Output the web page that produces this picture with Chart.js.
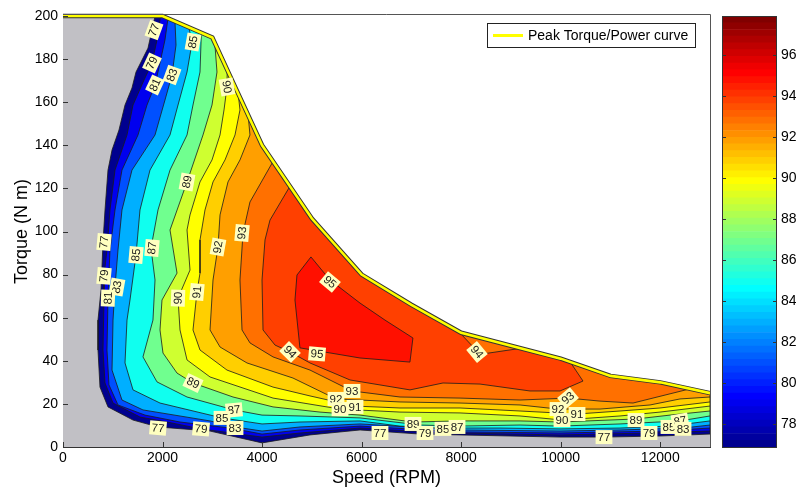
<!DOCTYPE html>
<html>
<head>
<meta charset="utf-8">
<script src="https://cdn.jsdelivr.net/npm/chart.js@4.4.1/dist/chart.umd.min.js"></script>
<style>
  html, body { margin: 0; padding: 0; background: #fff; }
  #wrap { position: relative; width: 796px; height: 489px; overflow: hidden; }
  #main { position: absolute; left: 0; top: 0; }
  #cbar { position: absolute; left: 700px; top: 0; }
</style>
</head>
<body>
<div id="wrap">
  <canvas id="main" width="796" height="489"></canvas>
  <canvas id="cbar" width="96" height="489"></canvas>
</div>
<script>
// Peak torque / power envelope
const peakSpeed = [0, 2000, 3000, 3500, 4000, 5000, 6000, 7000, 8000, 9000, 10000, 11000, 12000, 13000];
const peakTorque = [200, 200, 190, 165, 140, 106, 80, 66, 53, 47, 41, 33, 30, 25];

// Efficiency contours (%), [speed, torque]
const c77 = [[1850,200],[1708,185.1],[1467,174],[1386,166.6],[1246,158.7],[1125,147.1],[985,137.8],[904,128.5],[844,110],[804,95.1],[764,72.9],[703,58.9],[703,45],[743,27.8],[904,18.6],[1407,12.5],[1909,9.3],[2954,7.4],[3999,1.9],[4963,5.6],[5968,7.9],[7173,6],[7977,5.6],[9986,4.6],[10870,4.6],[11995,5.1],[13000,6]];
const c79 = [[1960,200],[1889,188.9],[1788,178.2],[1628,170.3],[1407,158.7],[1286,144.8],[1045,128.5],[944,110],[884,91.4],[824,79.4],[824,68.2],[804,45],[844,29.7],[1005,20.4],[1547,13.9],[2090,11.6],[2773,8.4],[3999,4.6],[4762,6.5],[5968,8.8],[7274,7],[7977,6.5],[9986,5.6],[11775,6.5],[13000,7.4]];
const c81 = [[2110,198.9],[2049,188.9],[1909,174],[1849,168],[1688,158.7],[1507,144.8],[1185,128.5],[1045,110],[944,91.4],[904,69.1],[884,45],[924,28.8],[1105,19.5],[1648,14.8],[2351,11.6],[3356,8.8],[3999,6],[4762,7.9],[5968,9.7],[7977,7],[9986,6.5],[11995,7.4],[13000,8.8]];
const c83 = [[2250,197.5],[2271,186.5],[2190,172.6],[2049,161],[1849,144.8],[1386,128.5],[1185,110],[1105,91.4],[1045,74.2],[1005,58.9],[985,35.7],[1185,21.8],[1607,17.2],[2954,12.1],[3456,9.3],[3999,7.4],[4762,9.3],[5968,10.7],[7977,7.9],[9986,7.4],[11192,7.9],[12458,8.8],[13000,10.2]];
const c85 = [[2530,194.7],[2592,187.5],[2492,174],[2311,158.7],[2150,144.8],[1748,128.5],[1547,110],[1467,89.1],[1346,68.2],[1286,58.9],[1246,39],[1407,26.5],[1949,20.4],[3195,13.5],[3999,10.7],[4762,11.6],[5968,12.1],[6771,9.7],[7635,8.8],[8781,8.8],[9986,8.4],[11192,8.8],[12176,9.7],[13000,12.1]];
const c87 = [[2780,192.2],[2753,174],[2612,158.7],[2492,144.8],[2150,128.5],[1909,110],[1768,92.3],[1849,77.5],[1808,58.9],[1607,41.8],[1889,30.2],[2492,23.2],[3436,17.2],[3999,14.8],[4762,14.4],[5968,13.5],[7173,10.2],[7917,9.7],[9183,10.2],[9986,9.7],[11192,10.7],[12398,12.1],[13000,14.4]];
const c89 = [[3050,187.5],[3094,174],[2994,158.7],[2813,144.8],[2492,123],[2150,100.7],[2291,80.7],[1989,68.2],[1949,54.3],[2009,43.6],[2291,34.3],[2612,29.7],[3416,23.2],[4220,18.6],[5164,16.2],[5968,14.8],[7033,11.6],[7977,12.1],[9183,12.1],[9986,11.6],[11513,13],[12196,14.8],[13000,16.7]];
const c90 = [[3300,175],[3295,167.1],[3235,156.4],[3155,144.8],[2994,133.2],[2753,123],[2552,107.7],[2492,100.7],[2552,82.1],[2311,69.1],[2351,54.3],[2492,40.4],[2954,32.5],[4220,22.7],[5566,17.6],[6771,16.2],[7977,15.8],[9183,14.4],[10026,12.5],[11192,14.4],[11995,16.2],[13000,19]];
const c91 = [[3520,164],[3556,156.4],[3456,144.8],[3255,133.2],[3014,123],[2853,110],[2753,96.1],[2753,80.7],[2692,71.9],[2612,54.3],[2753,45],[3295,35.7],[4220,27.8],[4963,23.7],[5867,19],[6771,18.1],[7977,18.1],[9183,16.7],[10328,15.3],[11192,16.7],[11995,18.1],[13000,20.9]];
const c92 = [[3720,154],[3757,144.8],[3556,133.2],[3315,123],[3155,107.7],[3114,92.8],[3014,77.5],[2954,54.3],[3155,46.4],[3697,39],[4621,32],[5485,22.3],[5968,21.8],[6771,20.9],[7977,20.4],[9183,19.5],[9946,17.6],[10790,17.6],[11795,19.5],[12398,22.3],[13000,23.2]];
const c93 = [[4220,132.5],[3757,113.7],[3617,99.3],[3556,77.5],[3597,54.3],[3757,48.3],[4220,41.8],[4963,35.7],[5807,26],[6771,23.2],[7977,22.7],[9183,21.8],[10147,22.7],[10790,21.3],[11453,20.4],[12096,24.1],[12600,27]];
const c94 = [[4560,121],[4159,105.3],[4059,96.1],[3999,77.5],[4019,54.3],[4260,47.3],[4561,44.1],[4963,39],[5767,31.1],[6972,26.5],[7635,29.7],[8379,29.2],[9383,26],[9986,26],[10448,30.6],[10190,39.5]];
const c93b = [[7950,53.6],[8380,43],[9200,45.8]];
const c95 = [[4982,88.2],[5364,77.5],[5967,66.8],[6469,58.9],[7031,50.6],[6971,39.4],[5967,41.3],[4761,46],[4661,68.2],[4701,79.8],[4982,88.2]];

// contour labels
const labelText   = ['77','85','79','83','81','90','89','77','79','83','81','85','87','92','93','90','91','89','87','85','83','77','79','94','95','95','93','92','90','91','77','89','79','85','87','94','93','92','90','91','77','89','79','85','87','83'];
const labelSpeed  = [1828,2612,1788,2190,1849,3295,2492,824,824,1085,904,1467,1788,3114,3597,2311,2692,2612,3436,3195,3456,1909,2773,4561,5104,5364,5807,5485,5566,5867,6369,7033,7274,7635,7917,8318,10147,9946,10026,10328,10870,11513,11775,12176,12398,12458];
const labelTorque = [193.5,187.9,178.2,172.6,168,167.1,123,95.1,79.4,74.2,69.1,89.1,92.3,92.8,99.3,69.1,71.9,29.7,17.2,13.5,8.8,8.8,8.4,44.1,43.2,76.6,26,22.3,17.6,18.6,6.5,10.7,6.5,8.4,9.3,44.1,22.7,17.6,12.5,15.3,4.6,12.5,6.5,9.3,12.1,8.4];
const labelAngle  = [-70,-80,-65,-70,-65,80,-80,-85,-85,-80,-88,-85,-85,-80,-85,-88,-85,25,-5,0,0,5,5,45,5,40,0,0,0,0,0,0,0,0,0,50,-40,0,0,0,0,0,0,0,-10,0];

// axes
const speedTicks = [0, 2000, 4000, 6000, 8000, 10000, 12000];
const torqueTicks = [0, 20, 40, 60, 80, 100, 120, 140, 160, 180, 200];
const cbarTicks = [78, 80, 82, 84, 86, 88, 90, 92, 94, 96];
const cmin = 76.9, cmax = 97.9;

const FONT = '"Liberation Sans", Arial, Helvetica, sans-serif';
Chart.defaults.font.family = FONT;
Chart.defaults.color = '#000';

// MATLAB jet(64)
function jet(t) {
    const c = (v) => Math.round(255 * Math.max(0, Math.min(1, v)));
    return `rgb(${c(1.5 - Math.abs(4 * t - 3))},${c(1.5 - Math.abs(4 * t - 2))},${c(1.5 - Math.abs(4 * t - 1))})`;
}
function levelColor(v) {
    const k = Math.min(64, Math.floor(((v - cmin) / (cmax - cmin)) * 63) + 1);
    return jet(k / 64);
}

// close a contour back along the peak curve (or not, if it is already closed)
function region(pts) {
    const first = pts[0], last = pts[pts.length - 1];
    const out = pts.map((p) => ({ x: p[0], y: p[1] }));
    if (first[0] !== last[0] || first[1] !== last[1]) {
        for (let i = peakSpeed.length - 1; i >= 0; i--) {
            const s = peakSpeed[i];
            if (s > first[0] && s <= last[0]) out.push({ x: s, y: peakTorque[i] });
        }
        out.push({ x: first[0], y: first[1] });
    }
    return out;
}

const baseArea = [{ x: 0, y: 0 }]
    .concat(peakSpeed.map((s, i) => ({ x: s, y: peakTorque[i] })))
    .concat([{ x: 13000, y: 0 }, { x: 0, y: 0 }]);

const bands = [
    [77, c77], [79, c79], [81, c81], [83, c83], [85, c85], [87, c87], [89, c89],
    [90, c90], [91, c91], [92, c92], [93, c93], [94, c94], [93, c93b], [95, c95],
];

const layers = [
    { data: baseArea, backgroundColor: 'rgb(193,192,197)', borderWidth: 0, fill: 'shape' },
];
bands.forEach(([lvl, pts]) => {
    layers.push({
        data: region(pts),
        backgroundColor: levelColor(lvl),
        borderColor: '#1c1c1c',
        borderWidth: 0.8,
        fill: 'shape',
    });
});
const curveData = peakSpeed.map((s, i) => ({ x: s, y: peakTorque[i] }));
layers.push({ data: curveData, borderColor: '#333', borderWidth: 4.5, fill: false, clip: 4 });
layers.push({ label: 'Peak Torque/Power curve', data: curveData, borderColor: '#ffff00', borderWidth: 2.6, fill: false, clip: 4 });
// later entries on top
layers.forEach((d, i) => { d.order = layers.length - i; });

const contourLabels = {
    id: 'contourLabels',
    afterDatasetsDraw(chart) {
        const { ctx, scales: { x, y } } = chart;
        ctx.save();
        ctx.font = '11.5px ' + FONT;
        ctx.textAlign = 'center';
        ctx.textBaseline = 'middle';
        labelText.forEach((t, i) => {
            const px = x.getPixelForValue(labelSpeed[i]);
            const py = y.getPixelForValue(labelTorque[i]);
            const w = ctx.measureText(t).width + 4, h = 14;
            ctx.save();
            ctx.translate(px, py);
            ctx.rotate((labelAngle[i] * Math.PI) / 180);
            ctx.fillStyle = '#ffffc0';
            ctx.fillRect(-w / 2, -h / 2, w, h);
            ctx.fillStyle = '#1a1a1a';
            ctx.fillText(t, 0, 0.5);
            ctx.restore();
        });
        ctx.restore();
    },
};

const axesBox = {
    id: 'axesBox',
    afterDraw(chart) {
        const { ctx, chartArea: a, scales: { x, y } } = chart;
        ctx.save();
        ctx.strokeStyle = '#333';
        ctx.lineWidth = 1;
        ctx.beginPath();
        speedTicks.forEach((v) => {
            const p = Math.round(x.getPixelForValue(v)) + 0.5;
            ctx.moveTo(p, a.bottom);
            ctx.lineTo(p, a.bottom - 5);
        });
        torqueTicks.forEach((v) => {
            const p = Math.round(y.getPixelForValue(v)) + 0.5;
            ctx.moveTo(a.left, p);
            ctx.lineTo(a.left + 5, p);
        });
        ctx.stroke();
        ctx.strokeStyle = '#555';
        ctx.beginPath();
        ctx.moveTo(a.left, a.top - 1.5);
        ctx.lineTo(a.right + 0.5, a.top - 1.5);
        ctx.lineTo(a.right + 0.5, a.bottom);
        ctx.stroke();

        // legend box
        const ds = chart.data.datasets.find((d) => d.label);
        const x0 = a.right - 223, y0 = a.top + 7, w = 208, h = 24;
        ctx.fillStyle = '#fff';
        ctx.fillRect(x0, y0, w, h);
        ctx.strokeStyle = '#222';
        ctx.strokeRect(x0 + 0.5, y0 + 0.5, w, h);
        ctx.strokeStyle = ds.borderColor;
        ctx.lineWidth = 3;
        ctx.beginPath();
        ctx.moveTo(x0 + 6, y0 + h / 2 + 0.5);
        ctx.lineTo(x0 + 36, y0 + h / 2 + 0.5);
        ctx.stroke();
        ctx.fillStyle = '#000';
        ctx.font = '14px ' + FONT;
        ctx.textBaseline = 'middle';
        ctx.fillText(ds.label, x0 + 41, y0 + h / 2 + 1);
        ctx.restore();
    },
};

new Chart(document.getElementById('main'), {
    type: 'line',
    data: { datasets: layers },
    options: {
        responsive: false,
        animation: false,
        layout: { padding: { top: 16, right: 86, left: 0, bottom: 0 } },
        elements: { point: { radius: 0, hoverRadius: 0 }, line: { tension: 0 } },
        plugins: { legend: { display: false }, tooltip: { enabled: false } },
        scales: {
            x: {
                type: 'linear',
                min: 0,
                max: 13000,
                afterBuildTicks: (s) => { s.ticks = speedTicks.map((v) => ({ value: v })); },
                ticks: { font: { size: 14 }, maxRotation: 0, padding: 3, autoSkip: false, callback: (v) => String(v) },
                grid: { display: false, drawTicks: false },
                border: { display: true, color: '#333' },
                title: { display: true, text: 'Speed (RPM)', font: { size: 18 }, padding: { top: 0, bottom: 0 } },
                afterFit: (s) => { s.height = 42; },
            },
            y: {
                type: 'linear',
                min: 0,
                max: 200,
                afterBuildTicks: (s) => { s.ticks = torqueTicks.map((v) => ({ value: v })); },
                ticks: { font: { size: 14 }, padding: 5, autoSkip: false, callback: (v) => String(v) },
                grid: { display: false, drawTicks: false },
                border: { display: true, color: '#333' },
                title: { display: true, text: 'Torque (N m)', font: { size: 18 }, padding: { top: 11, bottom: 0 } },
                afterFit: (s) => { s.width = 63; },
            },
        },
    },
    plugins: [contourLabels, axesBox],
});

// colour bar: 64 floating stripes of the colormap
const stripes = [];
for (let k = 1; k <= 64; k++) {
    const lo = cmin + ((k - 1) * (cmax - cmin)) / 64;
    const hi = cmin + (k * (cmax - cmin)) / 64;
    stripes.push({
        data: [[lo, hi]],
        backgroundColor: jet(k / 64),
        borderWidth: 0,
        barPercentage: 1,
        categoryPercentage: 1,
    });
}

const cbarFrame = {
    id: 'cbarFrame',
    afterDraw(chart) {
        const { ctx, chartArea: a, scales: { y } } = chart;
        ctx.save();
        ctx.strokeStyle = '#333';
        ctx.lineWidth = 1;
        ctx.beginPath();
        cbarTicks.forEach((v) => {
            const p = Math.round(y.getPixelForValue(v)) + 0.5;
            ctx.moveTo(a.left, p);
            ctx.lineTo(a.left + 4, p);
            ctx.moveTo(a.right, p);
            ctx.lineTo(a.right - 4, p);
        });
        ctx.stroke();
        ctx.strokeRect(a.left + 0.5, a.top + 0.5, a.right - a.left - 1, a.bottom - a.top);
        ctx.restore();
    },
};

new Chart(document.getElementById('cbar'), {
    type: 'bar',
    data: { labels: [''], datasets: stripes },
    options: {
        responsive: false,
        animation: false,
        layout: { padding: { left: 22, top: 16, bottom: 42, right: 0 } },
        plugins: { legend: { display: false }, tooltip: { enabled: false } },
        scales: {
            x: { display: false, stacked: true },
            y: {
                position: 'right',
                min: cmin,
                max: cmax,
                stacked: false,
                afterBuildTicks: (s) => { s.ticks = cbarTicks.map((v) => ({ value: v })); },
                ticks: { font: { size: 14 }, padding: 4 },
                grid: { display: false, drawTicks: false },
                border: { display: false },
                afterFit: (s) => { s.width = 19; },
            },
        },
    },
    plugins: [cbarFrame],
});
</script>
</body>
</html>
